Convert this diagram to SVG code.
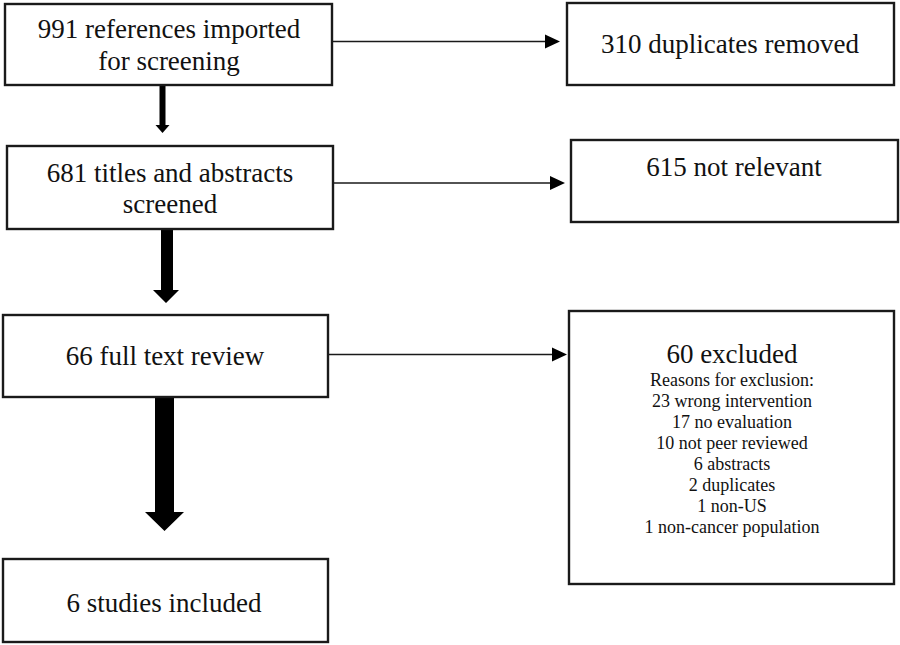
<svg xmlns="http://www.w3.org/2000/svg" width="900" height="645" viewBox="0 0 900 645">
<style>
.box{fill:#fff;stroke:#1a1a1a;stroke-width:2.4}
.t{font-family:"Liberation Serif","Times New Roman",serif;fill:#111;text-anchor:middle}
.big{font-size:27px}
.small{font-size:18px}
.ln{stroke:#1a1a1a;stroke-width:1.4;fill:none}
.ah{fill:#000}
</style>
<rect width="900" height="645" fill="#fff"/>
<g id="connectors">
<path class="ln" d="M332,41.5H546"/>
<polygon class="ah" points="545,34.5 560,41.5 545,48.5"/>
<path class="ln" d="M333,183H551"/>
<polygon class="ah" points="550,176 565,183 550,190"/>
<path class="ln" d="M328,354.5H553"/>
<polygon class="ah" points="552,347.5 567,354.5 552,361.5"/>
<polygon class="ah" points="159.5,85 165.5,85 165.5,125 169.5,125 162.5,133 155.5,125 159.5,125"/>
<polygon class="ah" points="161,229 173,229 173,290 179,290 166,303 153,290 161,290"/>
<polygon class="ah" points="155,397 174,397 174,512 184,512 164.5,531 145,512 155,512"/>
</g>
<g id="n1">
<rect class="box" x="5" y="4" width="327" height="81"/>
<text class="t big" x="169" y="38">991 references imported</text>
<text class="t big" x="169" y="70">for screening</text>
</g>
<g id="n2">
<rect class="box" x="7" y="146" width="326" height="83"/>
<text class="t big" x="170" y="182">681 titles and abstracts</text>
<text class="t big" x="170" y="213">screened</text>
</g>
<g id="n3">
<rect class="box" x="3" y="315" width="325" height="82"/>
<text class="t big" x="165" y="365">66 full text review</text>
</g>
<g id="n4">
<rect class="box" x="3" y="559" width="325" height="83"/>
<text class="t big" x="164" y="612">6 studies included</text>
</g>
<g id="r1">
<rect class="box" x="567" y="3" width="327" height="82"/>
<text class="t big" x="730" y="53">310 duplicates removed</text>
</g>
<g id="r2">
<rect class="box" x="571" y="140" width="327" height="82"/>
<text class="t big" x="734" y="176">615 not relevant</text>
</g>
<g id="r3">
<rect class="box" x="569" y="311" width="325" height="273"/>
<text class="t big" x="732" y="363">60 excluded</text>
<text class="t small" x="732" y="386">Reasons for exclusion:</text>
<text class="t small" x="732" y="407">23 wrong intervention</text>
<text class="t small" x="732" y="428">17 no evaluation</text>
<text class="t small" x="732" y="449">10 not peer reviewed</text>
<text class="t small" x="732" y="470">6 abstracts</text>
<text class="t small" x="732" y="491">2 duplicates</text>
<text class="t small" x="732" y="512">1 non-US</text>
<text class="t small" x="732" y="533">1 non-cancer population</text>
</g>
</svg>
